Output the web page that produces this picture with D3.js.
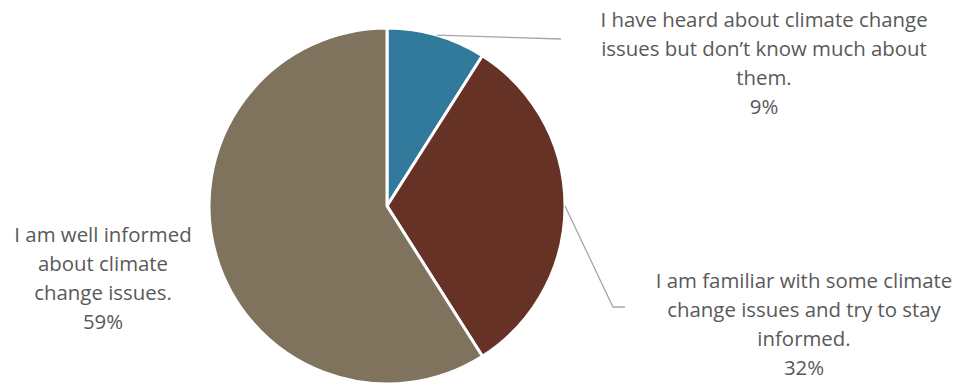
<!DOCTYPE html>
<html>
<head>
<meta charset="utf-8">
<script src="https://cdn.jsdelivr.net/npm/d3@7"></script>
<style>
  html, body { margin: 0; padding: 0; background: #fff; }
  svg { display: block; }
</style>
</head>
<body>
<svg id="chart" width="962" height="385"></svg>
<script>
// Survey answers, in clockwise order from 12 o'clock
const categories = [
  "I have heard about climate change issues but don\u2019t know much about them.",
  "I am familiar with some climate change issues and try to stay informed.",
  "I am well informed about climate change issues."
];
const values = [9, 32, 59];
const labelLines = [
  ["I have heard about climate change", "issues but don\u2019t know much about", "them."],
  ["I am familiar with some climate", "change issues and try to stay", "informed."],
  ["I am well informed", "about climate", "change issues."]
];
const colors = ["#327A9B", "#673226", "#80735E"];

const svg = d3.select("#chart");
const cx = 387, cy = 206, radius = 178;

const pie = d3.pie().sort(null).value(d => d)(values);
const arc = d3.arc().innerRadius(0).outerRadius(radius);
const color = d3.scaleOrdinal().domain(d3.range(values.length)).range(colors);

const g = svg.append("g").attr("transform", `translate(${cx},${cy})`);

g.selectAll("path.slice")
  .data(pie)
  .join("path")
  .attr("class", "slice")
  .attr("d", arc)
  .attr("fill", (d, i) => color(i))
  .attr("stroke", "#fff")
  .attr("stroke-width", 3)
  .attr("stroke-linejoin", "round");

// Label placement (centre x, first baseline) and leader-line routing
const labelLayout = [
  { x: 764, y: 27, leader: [[561, 39]] },
  { x: 804, y: 288, leader: [[613, 307], [625, 307]] },
  { x: 103, y: 242, leader: null }
];
const lineStep = 29;

const edge = d3.arc().innerRadius(radius).outerRadius(radius);

pie.forEach((d, i) => {
  const lay = labelLayout[i];
  if (lay.leader) {
    const [ex, ey] = edge.centroid(d);
    const pts = [[cx + ex, cy + ey], ...lay.leader];
    svg.append("path")
      .attr("d", d3.line()(pts))
      .attr("fill", "none")
      .attr("stroke", "#A6A6A6")
      .attr("stroke-width", 1.3);
  }
  const lines = labelLines[i].concat([`${values[i]}%`]);
  const t = svg.append("text")
    .attr("text-anchor", "middle")
    .attr("font-family", "'Open Sans', sans-serif")
    .attr("font-size", 20.4)
    .attr("fill", "#595959");
  lines.forEach((ln, k) => {
    t.append("tspan")
      .attr("x", lay.x)
      .attr("y", lay.y + k * lineStep)
      .text(ln);
  });
});
</script>
</body>
</html>
